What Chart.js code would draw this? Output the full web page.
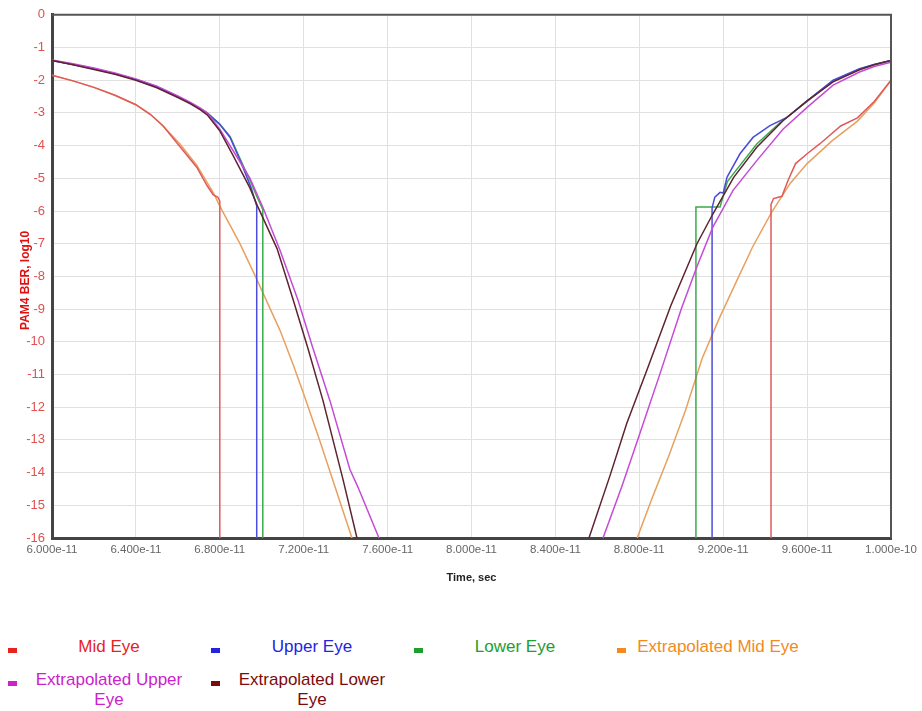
<!DOCTYPE html>
<html>
<head>
<meta charset="utf-8">
<script src="https://cdn.jsdelivr.net/npm/chart.js@4.4.1/dist/chart.umd.min.js"></script>
<style>
  body { margin: 0; background: #fff; font-family: "Liberation Sans", Arial, sans-serif; }
  #wrap { position: relative; width: 922px; height: 592px; box-shadow: 0 1px 6px rgba(0,0,0,0.10); }
  #legend { position: absolute; top: 637px; left: 8px; display: grid; grid-template-columns: repeat(4, 203px); row-gap: 13px; }
  .item { display: flex; align-items: flex-start; }
  .box { width: 9px; height: 5px; margin-top: 11px; margin-right: 5px; flex: none; }
  .txt { width: 174px; text-align: center; font-size: 17px; line-height: 20px; }
</style>
</head>
<body>
<div id="wrap"><canvas id="eyeChart"></canvas></div>
<div id="legend"></div>
<script>
// time in units of 1e-12 s, BER as log10; null = gap between left and right edge of the eye
var seriesNames = ['Mid Eye', 'Upper Eye', 'Lower Eye', 'Extrapolated Mid Eye', 'Extrapolated Upper Eye', 'Extrapolated Lower Eye'];

var midEyeX = [60, 61, 62, 63, 64, 64.7, 65.3, 66.25, 66.9, 67.39, 67.68, 67.91, 68.0, 68.0, 81, 94.28, 94.28, 94.4, 94.8, 95.1, 95.45, 96.0, 96.6, 97.6, 98.4, 99.2, 100];
var midEyeY = [-1.85, -2.02, -2.22, -2.46, -2.75, -3.05, -3.4, -4.15, -4.66, -5.22, -5.5, -5.58, -5.7, -16, null, -16, -5.8, -5.62, -5.55, -5.05, -4.55, -4.25, -3.95, -3.4, -3.15, -2.65, -2.0];

var upperEyeX = [60, 61, 62, 63, 64, 65, 66, 66.6, 67.06, 67.4, 68.0, 68.49, 69.0, 69.5, 69.76, 69.76, 80, 91.47, 91.47, 91.6, 91.85, 92.0, 92.18, 92.8, 93.42, 94.23, 95.04, 96.0, 97.24, 98.5, 99.2, 100];
var upperEyeY = [-1.4, -1.52, -1.65, -1.8, -1.98, -2.2, -2.5, -2.7, -2.87, -3.0, -3.35, -3.75, -4.5, -5.3, -5.85, -16, null, -16, -5.9, -5.58, -5.43, -5.45, -4.97, -4.25, -3.75, -3.39, -3.14, -2.63, -2.0, -1.65, -1.52, -1.4];

var lowerEyeX = [60, 61, 62, 63, 64, 65, 66, 66.6, 67.06, 67.4, 68.0, 68.49, 69.0, 69.5, 69.76, 70.05, 70.05, 80, 90.7, 90.7, 91.85, 92.2, 92.5, 93.6, 94.7, 96.0, 97.24, 98.5, 99.2, 100];
var lowerEyeY = [-1.4, -1.52, -1.65, -1.8, -1.98, -2.2, -2.5, -2.7, -2.87, -3.0, -3.35, -3.72, -4.45, -5.15, -5.55, -5.95, -16, null, -16, -5.88, -5.88, -5.1, -4.85, -3.95, -3.3, -2.65, -2.02, -1.66, -1.52, -1.4];

var extMidX = [60, 61, 62, 63, 64, 64.7, 65.3, 66.1, 66.9, 67.7, 68.0, 68.96, 69.77, 70.87, 71.5, 72.0, 72.78, 73.5, 74.3, 81, 87.9, 88.6, 89.4, 90.2, 91.0, 91.8, 92.6, 93.4, 94.3, 95.2, 96.0, 97.2, 98.4, 99.2, 100];
var extMidY = [-1.85, -2.02, -2.22, -2.46, -2.75, -3.05, -3.4, -3.95, -4.6, -5.45, -5.85, -7.0, -8.1, -9.65, -10.7, -11.6, -13.05, -14.45, -16, null, -16, -14.8, -13.5, -12.1, -10.5, -9.3, -8.2, -7.1, -6.05, -5.15, -4.55, -3.85, -3.25, -2.7, -2.0];

var extUpperX = [60, 61, 62, 63, 64, 65, 66, 66.6, 67.06, 67.4, 68.0, 68.63, 69.44, 70.06, 70.87, 71.73, 72.44, 73.25, 74.2, 74.59, 75.59, 80, 86.27, 87.18, 88.03, 89.0, 90.0, 90.75, 91.5, 92.47, 93.6, 94.85, 96.0, 97.24, 98.5, 99.2, 100];
var extUpperY = [-1.38, -1.5, -1.63, -1.78, -1.96, -2.18, -2.48, -2.68, -2.85, -3.0, -3.5, -4.15, -5.0, -5.9, -7.2, -8.73, -10.2, -11.8, -13.9, -14.45, -16, null, -16, -14.4, -12.8, -10.95, -9.0, -7.7, -6.5, -5.37, -4.46, -3.5, -2.83, -2.15, -1.75, -1.58, -1.45];

var extLowerX = [60, 61, 62, 63, 64, 65, 66, 66.6, 67.06, 67.4, 68.0, 68.63, 69.44, 69.8, 70.73, 71.49, 72.2, 72.92, 73.87, 74.54, 80, 85.6, 86.6, 87.4, 88.4, 89.5, 90.75, 91.5, 92.5, 93.6, 94.85, 96.0, 97.24, 98.5, 99.2, 100];
var extLowerY = [-1.4, -1.53, -1.67, -1.82, -2.0, -2.23, -2.53, -2.72, -2.9, -3.06, -3.55, -4.3, -5.3, -5.85, -7.15, -8.7, -10.2, -11.8, -14.2, -16, null, -16, -14.1, -12.5, -10.8, -8.9, -7.0, -6.1, -4.97, -4.05, -3.24, -2.63, -2.05, -1.68, -1.53, -1.4];

var legendColors = ['#e8231f', '#2323e0', '#1e9e2e', '#f28a1e', '#cc22cc', '#7a0c0c'];
var lineColors = ['#e05a5a', '#4b4bdd', '#3aaa4a', '#e8a060', '#c54bd6', '#5e2430'];

function pts(xs, ys) {
    return xs.map(function (x, i) { return { x: x, y: ys[i] }; });
}

var allX = [midEyeX, upperEyeX, lowerEyeX, extMidX, extUpperX, extLowerX];
var allY = [midEyeY, upperEyeY, lowerEyeY, extMidY, extUpperY, extLowerY];
var drawOrder = [2, 3, 3, 4, 1, 0];

var datasets = seriesNames.map(function (name, i) {
    return {
        label: name,
        data: pts(allX[i], allY[i]),
        borderColor: lineColors[i],
        borderWidth: 1.5,
        pointRadius: 0,
        tension: 0,
        spanGaps: false,
        order: drawOrder[i]
    };
});

// y axis title sits close to the ticks, and the plot has a box round it
var extras = {
    id: 'extras',
    afterDraw: function (chart) {
        var c = chart.ctx, a = chart.chartArea;
        c.save();
        c.strokeStyle = '#555';
        c.lineWidth = 2;
        c.beginPath();
        c.moveTo(a.left, a.top);
        c.lineTo(a.right, a.top);
        c.lineTo(a.right, a.bottom);
        c.stroke();
        c.translate(26, (a.top + a.bottom) / 2 + 4);
        c.rotate(-Math.PI / 2);
        c.fillStyle = '#e01010';
        c.font = 'bold 12px "Liberation Sans", Arial';
        c.textAlign = 'center';
        c.textBaseline = 'middle';
        c.fillText('PAM4 BER, log10', 0, 0);
        c.restore();
    }
};

var ctx = document.getElementById('eyeChart').getContext('2d');
var eyeChart = new Chart(ctx, {
    type: 'line',
    data: { datasets: datasets },
    options: {
        responsive: true,
        maintainAspectRatio: false,
        animation: false,
        layout: { padding: { top: 14, right: 31, left: 0, bottom: 0 } },
        plugins: { legend: { display: false }, tooltip: { enabled: false } },
        scales: {
            x: {
                type: 'linear',
                min: 60,
                max: 100,
                afterFit: function (s) { s.height = 54; },
                ticks: {
                    stepSize: 4,
                    maxRotation: 0,
                    padding: 5,
                    color: '#666',
                    font: { family: '"Liberation Sans", Arial', size: 11.5 },
                    callback: function (v) { return (v * 1e-12).toExponential(3); }
                },
                grid: { color: '#e0e0e0', drawTicks: false },
                border: { color: '#444', width: 3 },
                title: {
                    display: true,
                    text: 'Time, sec',
                    color: '#222',
                    font: { family: '"Liberation Sans", Arial', size: 11, weight: 'bold' },
                    padding: { top: 0, bottom: 7 }
                }
            },
            y: {
                min: -16,
                max: 0,
                afterFit: function (s) { s.width = 52; },
                ticks: {
                    stepSize: 1,
                    padding: 7,
                    color: '#e05050',
                    font: { family: '"Liberation Sans", Arial', size: 13 }
                },
                grid: { color: '#e0e0e0', drawTicks: false },
                border: { color: '#444', width: 3 }
            }
        }
    },
    plugins: [extras]
});

// html legend, four columns
var legend = document.getElementById('legend');
seriesNames.forEach(function (name, i) {
    var item = document.createElement('div');
    item.className = 'item';
    item.innerHTML = '<span class="box" style="background:' + legendColors[i] + '"></span>' +
        '<span class="txt" style="color:' + legendColors[i] + '">' + name + '</span>';
    legend.appendChild(item);
});
</script>
</body>
</html>
